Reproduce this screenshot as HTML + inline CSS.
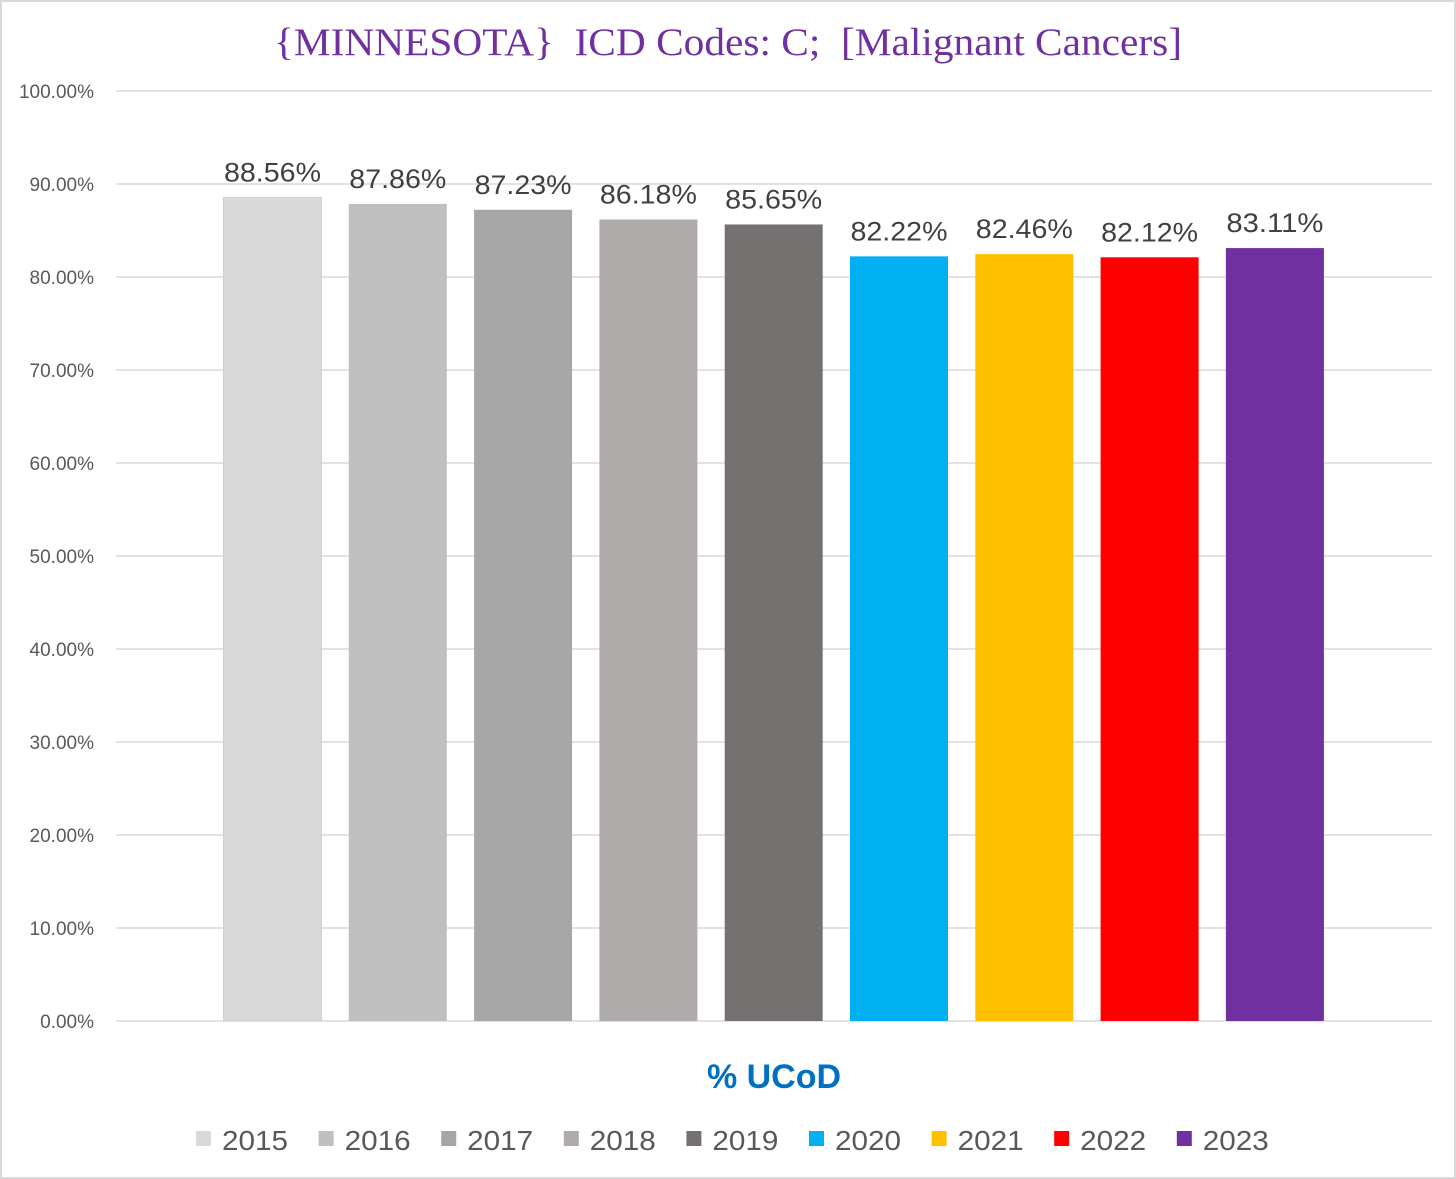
<!DOCTYPE html>
<html><head><meta charset="utf-8"><style>
body{margin:0;background:#fff}
svg{display:block;font-family:"Liberation Sans",sans-serif}
</style></head><body>
<svg id="c" width="1456" height="1179">
<rect x="1" y="1" width="1454" height="1177" fill="#fff" stroke="#d9d9d9" stroke-width="2"/>
<text x="728" y="55" text-anchor="middle" font-family="Liberation Serif,serif" font-size="39" fill="#7030a0" textLength="908" lengthAdjust="spacingAndGlyphs">{MINNESOTA}&#160;&#160;ICD Codes: C;&#160;&#160;[Malignant Cancers]</text>
<g id="grid"></g><g id="bars"></g><g id="legend"></g>
<text x="774" y="1088" text-anchor="middle" font-size="34" font-weight="bold" fill="#0070c0">% UCoD</text>
</svg>
<script>
const categories=["2015","2016","2017","2018","2019","2020","2021","2022","2023"];
const values=[88.56,87.86,87.23,86.18,85.65,82.22,82.46,82.12,83.11];
const colors=["#d9d9d9","#bfbfbf","#a6a6a6","#afabab","#767171","#00b0f0","#ffc000","#ff0000","#7030a0"];
const ticks=[0,10,20,30,40,50,60,70,80,90,100];
const NS="http://www.w3.org/2000/svg";
const y=v=>1021-v*9.3;
const xc=i=>272.5+i*125.3;
function mk(t,a,p,txt){const e=document.createElementNS(NS,t);for(const k in a)e.setAttribute(k,a[k]);if(txt!=null)e.textContent=txt;p.appendChild(e);return e;}
const g=document.getElementById('grid'),b=document.getElementById('bars'),l=document.getElementById('legend');
ticks.forEach(t=>{
 const ln=mk('line',{x1:116,x2:1432,y1:y(t),y2:y(t),stroke:'#d9d9d9','stroke-width':1.5},g);
 
 
 const tx=mk('text',{x:94,y:y(t)+7,'text-anchor':'end','font-size':19,fill:'#595959'},g,t.toFixed(2)+'%');
 
 
});
values.forEach((v,i)=>{
 const r=mk('rect',{x:xc(i)-49,y:y(v),width:98,height:y(0)-y(v),fill:colors[i],stroke:i==0?'#d0d0d0':'none'},b);
 
 
 const t=mk('text',{x:xc(i),y:y(v)-16,'text-anchor':'middle','font-size':27,fill:'#404040',textLength:97,lengthAdjust:'spacingAndGlyphs'},b,v.toFixed(2)+'%');
 
 
 const s=mk('rect',{x:196+i*122.6,y:1131,width:15,height:15,fill:colors[i]},l);
 
 
 const lt=mk('text',{x:222+i*122.6,y:1150,'font-size':28,fill:'#595959',textLength:66,lengthAdjust:'spacingAndGlyphs'},l,categories[i]);
 
 
});
</script>
</body></html>
